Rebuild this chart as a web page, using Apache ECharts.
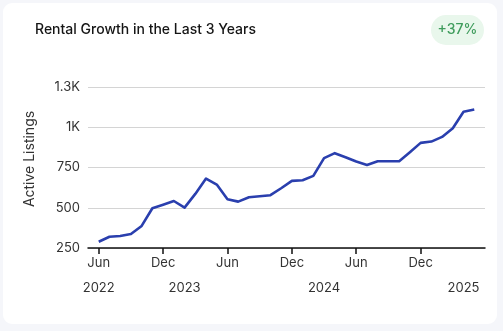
<!DOCTYPE html>
<html>
<head>
<meta charset="utf-8">
<script src="https://cdn.jsdelivr.net/npm/echarts@6/dist/echarts.min.js"></script>
<style>
  html, body { margin: 0; padding: 0; background: #f5f6fa; }
  #card {
    position: absolute; left: 3px; top: 3px; width: 494px; height: 321px;
    background: #ffffff; border-radius: 9px;
  }
  #chart { position: absolute; left: 0; top: 0; width: 503px; height: 331px; }
</style>
</head>
<body>
<div id="card"></div>
<div id="chart"></div>
<script>
// Monthly active listings, Jun 2022 through May 2025
const months = [
  'Jun', 'Jul', 'Aug', 'Sep', 'Oct', 'Nov', 'Dec', 'Jan', 'Feb', 'Mar', 'Apr', 'May',
  'Jun', 'Jul', 'Aug', 'Sep', 'Oct', 'Nov', 'Dec', 'Jan', 'Feb', 'Mar', 'Apr', 'May',
  'Jun', 'Jul', 'Aug', 'Sep', 'Oct', 'Nov', 'Dec', 'Jan', 'Feb', 'Mar', 'Apr', 'May'
];
const activeListings = [
  289, 320, 325, 337, 387, 497, 519, 542, 501, 586, 681, 644,
  553, 538, 565, 571, 578, 621, 667, 671, 698, 808, 839, 814,
  787, 766, 789, 789, 789, 845, 903, 911, 940, 994, 1096, 1110
];
const monthTickIdx = [0, 6, 12, 18, 24, 30];
const yearLabelIdx = [0, 8, 21, 34];
const yearLabels = ['2022', '2023', '2024', '2025'];
const yTickLabels = { 250: '250', 500: '500', 750: '750', 1000: '1K', 1250: '1.3K' };
const growthBadge = '+37%';

const FONT = 'Inter, "Noto Sans", sans-serif';
const chart = echarts.init(document.getElementById('chart'), null, { renderer: 'canvas' });

chart.setOption({
  animation: false,
  textStyle: { fontFamily: FONT },
  grid: { left: 88, right: 18, top: 87, bottom: 83 },
  graphic: [
    {
      type: 'text', x: 35, y: 30,
      style: { text: 'Rental Growth in the Last 3 Years', font: '500 14px ' + FONT, fill: '#151515', verticalAlign: 'middle' }
    },
    {
      type: 'rect', shape: { x: 431, y: 15, width: 53, height: 30, r: 15 },
      style: { fill: '#e9f7ec' }
    },
    {
      type: 'text', x: 457.5, y: 30,
      style: { text: growthBadge, font: '500 14px ' + FONT, fill: '#3f9c5c', align: 'center', verticalAlign: 'middle' }
    },
    {
      type: 'text', x: 30, y: 159, rotation: Math.PI / 2,
      style: { text: 'Active Listings', font: '400 14px ' + FONT, fill: '#333333', align: 'center', verticalAlign: 'middle' }
    }
  ],
  xAxis: [
    {
      type: 'value', min: -1, max: 36,
      axisLine: { show: true, onZero: false, lineStyle: { color: '#111111', width: 1.5 } },
      axisTick: { show: true, customValues: monthTickIdx, length: 6, lineStyle: { color: '#111111', width: 1.5 } },
      axisLabel: {
        customValues: monthTickIdx, color: '#333333', fontSize: 13, margin: 9,
        formatter: v => months[v]
      },
      splitLine: { show: false }
    },
    {
      type: 'value', min: -1, max: 36, position: 'bottom', offset: 25,
      axisLine: { show: false }, axisTick: { show: false },
      axisLabel: {
        customValues: yearLabelIdx, color: '#333333', fontSize: 13, margin: 9,
        formatter: v => yearLabels[yearLabelIdx.indexOf(v)]
      },
      splitLine: { show: false }
    }
  ],
  yAxis: {
    type: 'value', min: 250, max: 1250, interval: 250,
    axisLine: { show: false }, axisTick: { show: false },
    axisLabel: { color: '#333333', fontSize: 13, margin: 8, formatter: v => yTickLabels[v] },
    splitLine: { lineStyle: { color: '#d4d4d4', width: 1 } }
  },
  series: [{
    type: 'line',
    xAxisIndex: 0,
    data: activeListings.map((v, i) => [i, v]),
    showSymbol: false,
    lineStyle: { color: '#2a3fae', width: 2.6, join: 'round' }
  }]
});
</script>
</body>
</html>
